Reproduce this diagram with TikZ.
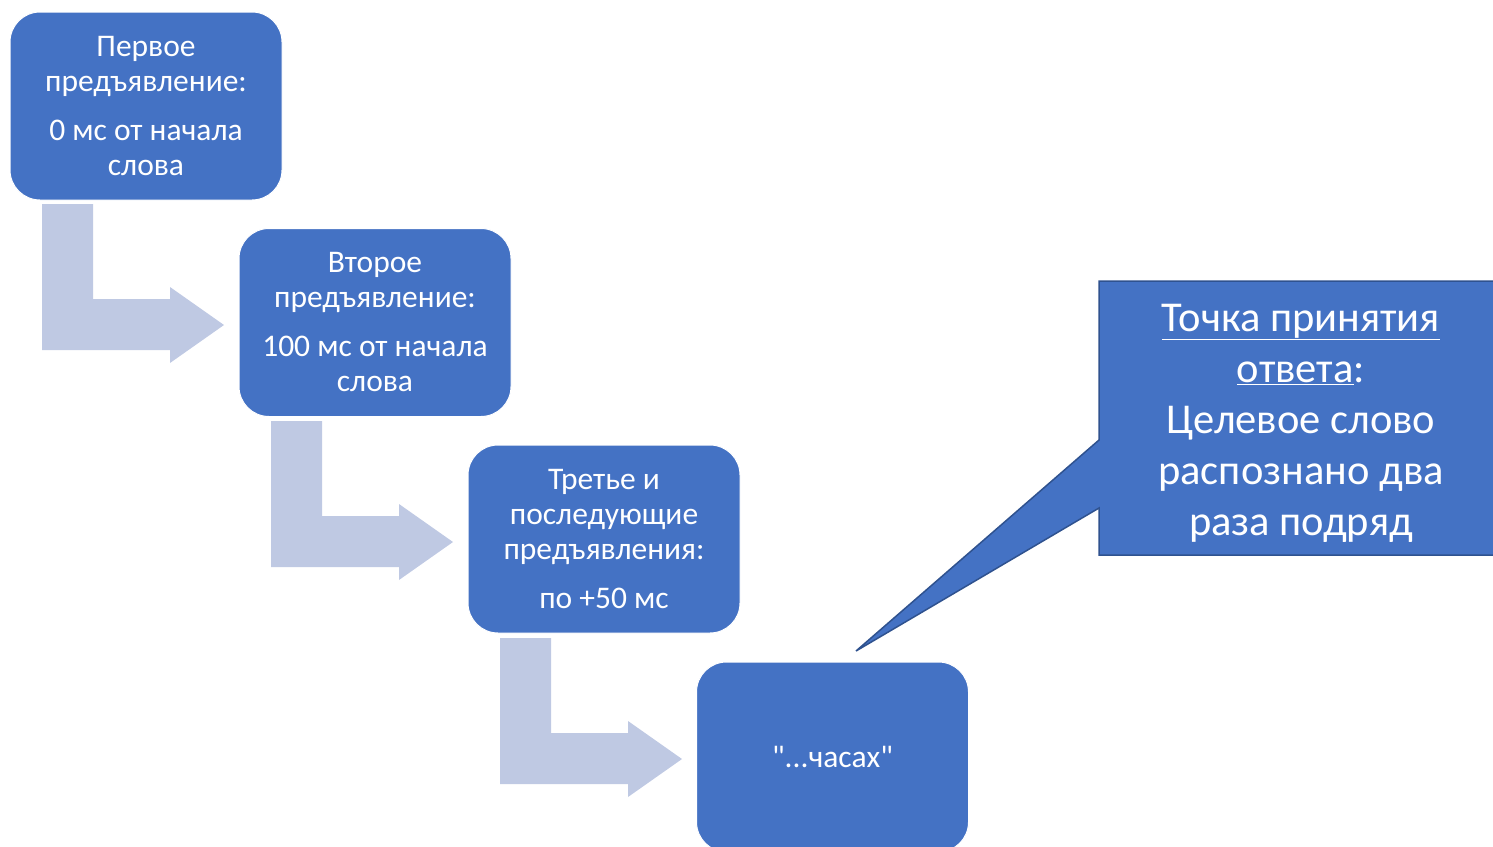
\documentclass[tikz,border=0pt]{standalone}
\usepackage{fontspec}
\setmainfont{Carlito}[Ligatures=TeXOff]
\definecolor{boxblue}{HTML}{4472C4}
\definecolor{edgeblue}{HTML}{2F528F}
\definecolor{arrowfill}{RGB}{191,201,227}
\begin{document}
\begin{tikzpicture}[x=1pt,y=-1pt,
  stepbox/.style={fill=boxblue, draw=white, line width=1pt, rounded corners=30pt,
    minimum width=272pt, minimum height=188pt, inner sep=0pt, text=white,
    align=center, font=\fontsize{31.5}{35}\selectfont},
  bentarrow/.style={fill=arrowfill, draw=none},
  calloutshape/.style={fill=boxblue, draw=edgeblue, line width=1.5pt, line join=miter},
  callouttext/.style={text=white, align=center, font=\fontsize{42.5}{51}\selectfont, inner sep=0pt}
]
\useasboundingbox (0,0) rectangle (1493,846);
\clip (0,0) rectangle (1493,846);
% bent arrows
\foreach \dx/\dy in {0/0, 229/217, 458/434}{
  \fill[bentarrow, shift={(\dx,\dy)}] (42,204) -- (93,204) -- (93,299) -- (170,299) -- (170,287)
    -- (224,325) -- (170,363) -- (170,350) -- (42,350) -- cycle;
}
% boxes
\node[stepbox] (b1) at (146,106) {Первое\\предъявление:\\[14pt]0 мс от начала\\слова};
\node[stepbox] (b2) at (375,322.5) {Второе\\предъявление:\\[14pt]100 мс от начала\\слова};
\node[stepbox] (b3) at (604,539) {Третье и\\последующие\\предъявления:\\[14pt]по +50 мс};
\node[stepbox, minimum height=190pt] (b4) at (832.5,757) {"...часах"};
% callout
\coordinate (tip) at (856,651);
\draw[calloutshape] (1099,281) -- (1510,281) -- (1510,555) -- (1099,555) -- (1099,508)
  -- (tip) -- (1099,440) -- cycle;
\node[callouttext] (c) at (1301,423) {\underline{Точка принятия}\\\underline{ответа}:\\Целевое слово\\распознано два\\раза подряд};
\end{tikzpicture}
\end{document}
